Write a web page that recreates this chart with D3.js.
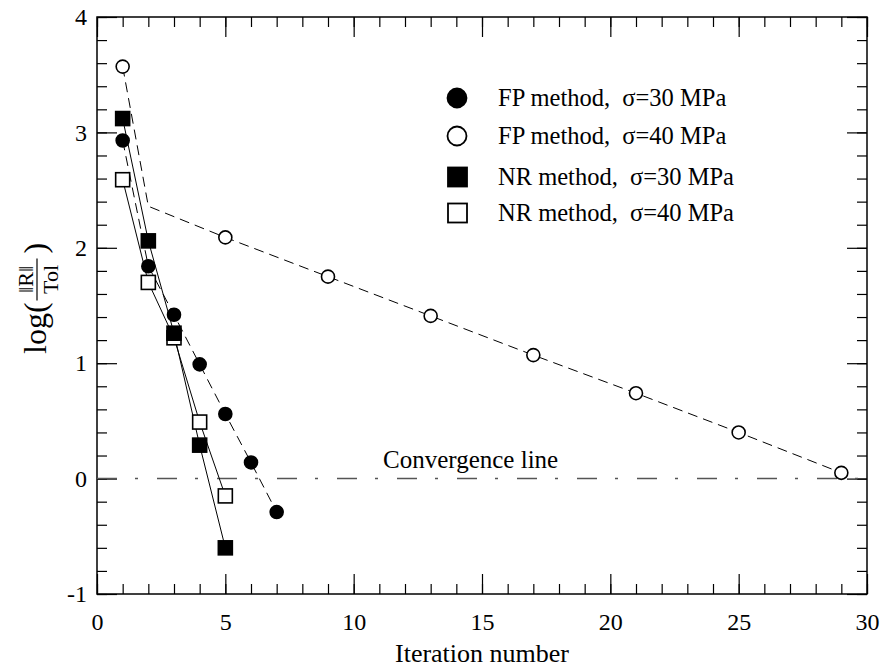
<!DOCTYPE html>
<html>
<head>
<meta charset="utf-8">
<script src="https://cdn.jsdelivr.net/npm/d3@7"></script>
<style>
  body { margin: 0; background: #fff; }
  text { font-family: "Liberation Serif", "Times New Roman", serif; fill: #000; }
</style>
</head>
<body>
<div id="chart"></div>
<script>
// values: iteration number -> log(||R||/Tol)
const itNR = [1, 2, 3, 4, 5];
const nr30 = [3.12, 2.06, 1.26, 0.29, -0.60];
const nr40 = [2.59, 1.70, 1.22, 0.49, -0.15];
const itFP30 = [1, 2, 3, 4, 5, 6, 7];
const fp30 = [2.93, 1.84, 1.42, 0.99, 0.56, 0.14, -0.29];
const itFP40 = [1, 2, 5, 9, 13, 17, 21, 25, 29];
const fp40 = [3.57, 2.36, 2.09, 1.75, 1.41, 1.07, 0.74, 0.40, 0.05];
const fp40Marked = [true, false, true, true, true, true, true, true, true];
const legendLabels = ["FP method,  σ=30 MPa", "FP method,  σ=40 MPa",
                      "NR method,  σ=30 MPa", "NR method,  σ=40 MPa"];
const legendShapes = ["circle", "circle", "square", "square"];
const legendFilled = [true, false, true, false];
const xTicks = [0, 5, 10, 15, 20, 25, 30];
const yTicks = [-1, 0, 1, 2, 3, 4];
const convergenceLevel = 0;

const W = 881, H = 670;
const svg = d3.select("#chart").append("svg")
  .attr("width", W).attr("height", H);

const x = d3.scaleLinear().domain([0, 30]).range([97, 867]);
const y = d3.scaleLinear().domain([-1, 4]).range([594, 17]);

const xMinor = d3.range(0, 31, 1);
const yMinor = d3.range(-1, 4.001, 0.2);

function tickAxis (axis, vals, len, labelled, pad) {
  return axis.tickValues(vals).tickSize(-len).tickSizeOuter(0).tickPadding(pad || 0)
    .tickFormat(labelled ? (d => String(d)) : "");
}

// minor ticks on all four sides
[
  { gen: d3.axisBottom(x), tr: `translate(0,${y(-1)})`, vals: xMinor },
  { gen: d3.axisTop(x), tr: `translate(0,${y(4)})`, vals: xMinor },
  { gen: d3.axisLeft(y), tr: `translate(${x(0)},0)`, vals: yMinor },
  { gen: d3.axisRight(y), tr: `translate(${x(30)},0)`, vals: yMinor }
].forEach(a => {
  svg.append("g").attr("transform", a.tr)
    .call(tickAxis(a.gen, a.vals, 10, false))
    .select(".domain").remove();
});
// major ticks, labels only bottom and left
[
  { gen: d3.axisBottom(x), tr: `translate(0,${y(-1)})`, vals: xTicks, lab: true, pad: 19 },
  { gen: d3.axisTop(x), tr: `translate(0,${y(4)})`, vals: xTicks, lab: false },
  { gen: d3.axisLeft(y), tr: `translate(${x(0)},0)`, vals: yTicks, lab: true, pad: 10 },
  { gen: d3.axisRight(y), tr: `translate(${x(30)},0)`, vals: yTicks, lab: false }
].forEach(a => {
  const g = svg.append("g").attr("transform", a.tr)
    .call(tickAxis(a.gen, a.vals, 20, a.lab, a.pad));
  g.select(".domain").remove();
  g.attr("font-family", null);
  g.selectAll("text").style("font-size", "24px").attr("fill", "#000");
});
svg.selectAll(".tick line").attr("stroke", "#000").attr("stroke-width", 1.2);

// frame
svg.append("rect")
  .attr("x", x(0)).attr("y", y(4))
  .attr("width", x(30) - x(0)).attr("height", y(-1) - y(4))
  .attr("fill", "none").attr("stroke", "#000").attr("stroke-width", 1.5);

// convergence line
svg.append("line")
  .attr("x1", x(0)).attr("x2", x(30))
  .attr("y1", y(convergenceLevel)).attr("y2", y(convergenceLevel))
  .attr("stroke", "#555").attr("stroke-width", 1.5)
  .attr("stroke-dasharray", "20,18,3,19");
svg.append("text")
  .attr("x", 383).attr("y", 468)
  .style("font-size", "25px")
  .text("Convergence line");

// series lines
const line = d3.line().x(d => x(d[0])).y(d => y(d[1]));
const zip = (a, b) => a.map((v, i) => [v, b[i]]);

svg.append("path").datum(zip(itFP40, fp40)).attr("d", line)
  .attr("fill", "none").attr("stroke", "#000").attr("stroke-width", 1)
  .attr("stroke-dasharray", "10,6");
svg.append("path").datum(zip(itFP30, fp30)).attr("d", line)
  .attr("fill", "none").attr("stroke", "#000").attr("stroke-width", 1)
  .attr("stroke-dasharray", "10,6");
svg.append("path").datum(zip(itNR, nr30)).attr("d", line)
  .attr("fill", "none").attr("stroke", "#000").attr("stroke-width", 1);
svg.append("path").datum(zip(itNR, nr40)).attr("d", line)
  .attr("fill", "none").attr("stroke", "#000").attr("stroke-width", 1);

// markers
function drawMarkers (pts, shape, filled, r) {
  const g = svg.append("g");
  if (shape === "circle") {
    g.selectAll("circle").data(pts).enter().append("circle")
      .attr("cx", d => x(d[0])).attr("cy", d => y(d[1])).attr("r", r)
      .attr("fill", filled ? "#000" : "#fff")
      .attr("stroke", "#000").attr("stroke-width", 1.6);
  } else {
    g.selectAll("rect").data(pts).enter().append("rect")
      .attr("x", d => x(d[0]) - r).attr("y", d => y(d[1]) - r)
      .attr("width", 2 * r).attr("height", 2 * r)
      .attr("fill", filled ? "#000" : "#fff")
      .attr("stroke", "#000").attr("stroke-width", 1.6);
  }
}
drawMarkers(zip(itNR, nr40), "square", false, 7);
drawMarkers(zip(itNR, nr30), "square", true, 7);
drawMarkers(zip(itFP30, fp30), "circle", true, 6.5);
drawMarkers(zip(itFP40, fp40).filter((d, i) => fp40Marked[i]), "circle", false, 6.5);

// legend
const legendY = [98, 136, 177, 213];
const leg = svg.append("g");
legendLabels.forEach((lab, i) => {
  const cy = legendY[i];
  if (legendShapes[i] === "circle") {
    leg.append("circle").attr("cx", 457).attr("cy", cy).attr("r", 9.5)
      .attr("fill", legendFilled[i] ? "#000" : "#fff")
      .attr("stroke", "#000").attr("stroke-width", 1.8);
  } else {
    leg.append("rect").attr("x", 448).attr("y", cy - 9.5)
      .attr("width", 19).attr("height", 19)
      .attr("fill", legendFilled[i] ? "#000" : "#fff")
      .attr("stroke", "#000").attr("stroke-width", 1.8);
  }
  leg.append("text").attr("x", 498).attr("y", cy + 8)
    .style("font-size", "24.5px").style("white-space", "pre")
    .text(lab);
});

// x title
svg.append("text")
  .attr("x", (x(0) + x(30)) / 2).attr("y", 662)
  .attr("text-anchor", "middle")
  .style("font-size", "26px")
  .text("Iteration number");

// y title: log( ||R|| / Tol )
const yt = svg.append("g").attr("transform", "translate(46,354) rotate(-90)");
const logT = yt.append("text").attr("x", 0).attr("y", 0)
  .style("font-size", "32px").text("log(");
const lw = logT.node().getComputedTextLength();
const fx = lw + 23;
yt.append("text").attr("x", fx).attr("y", -13).attr("text-anchor", "middle")
  .style("font-size", "22px").text("‖R‖");
yt.append("line").attr("x1", fx - 21).attr("x2", fx + 21)
  .attr("y1", -9).attr("y2", -9).attr("stroke", "#000").attr("stroke-width", 1.2);
yt.append("text").attr("x", fx).attr("y", 12).attr("text-anchor", "middle")
  .style("font-size", "22px").text("Tol");
yt.append("text").attr("x", fx + 26).attr("y", 0)
  .style("font-size", "32px").text(")");
</script>
</body>
</html>
